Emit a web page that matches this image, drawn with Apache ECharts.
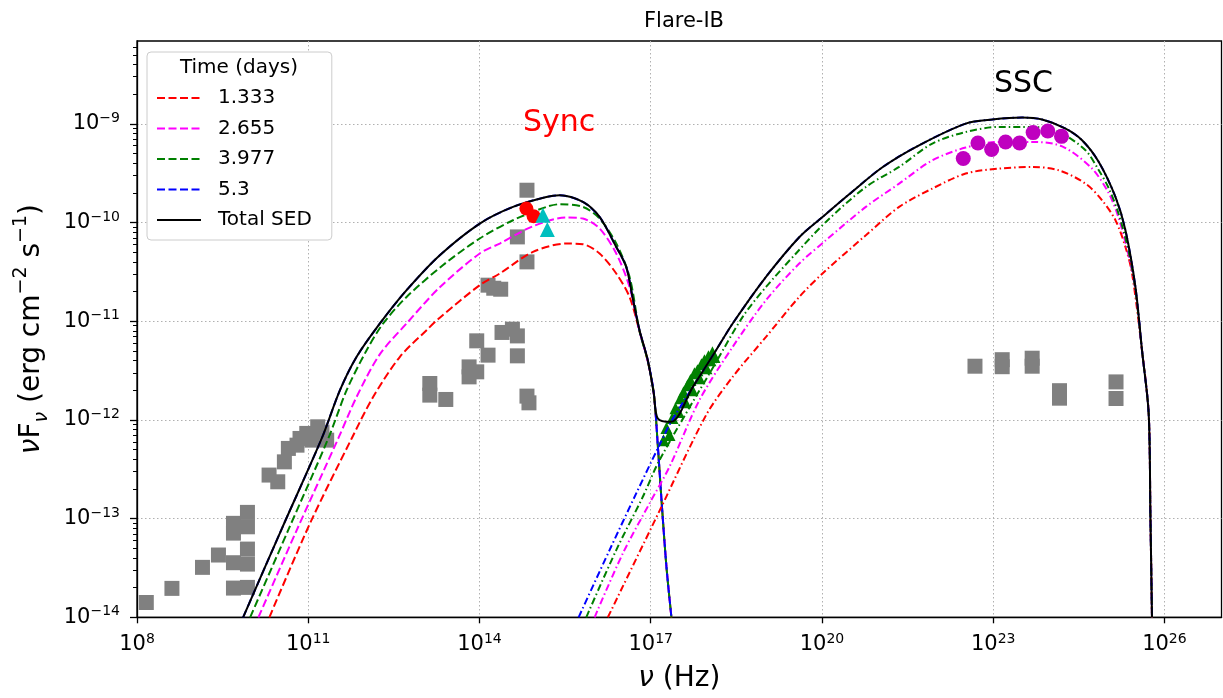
<!DOCTYPE html>
<html>
<head>
<meta charset="utf-8">
<title>Flare-IB</title>
<script src="https://cdn.jsdelivr.net/npm/echarts@6.0.0/dist/echarts.min.js"></script>
<style>
  html, body { margin: 0; padding: 0; background: #fff; }
  #chart { width: 1223px; height: 698px; }
</style>
</head>
<body>
<div id="chart"></div>
<script>
// every point below is [log10(nu / Hz), log10(nuFnu / erg cm^-2 s^-1)]

var timeLabels = ['1.333', '2.655', '3.977', '5.3']
var totalLabel = 'Total SED'

var xTickValues = [1e8, 1e11, 1e14, 1e17, 1e20, 1e23, 1e26]
var yTickValues = [1e-14, 1e-13, 1e-12, 1e-11, 1e-10, 1e-9]
var yMinorMantissas = [2, 3, 4, 5, 6, 7, 8, 9]

// synchrotron components (dashed)
var sync1333 = [[10.319, -14.0], [11.031, -13.048], [11.761, -12.188], [12.139, -11.766], [12.606, -11.361],
  [13.073, -11.091], [13.305, -10.964], [14.005, -10.635], [14.355, -10.517], [14.937, -10.298], [15.522, -10.213],
  [15.812, -10.220], [16.104, -10.314], [16.396, -10.517], [16.629, -10.754], [16.804, -11.101], [16.949, -11.405],
  [17.054, -11.732], [17.124, -12.256], [17.189, -12.812], [17.276, -13.491], [17.363, -14.0]]
var sync2655 = [[10.127, -14.0], [10.799, -13.116], [11.526, -12.188], [11.848, -11.766], [12.256, -11.334],
  [12.723, -11.023], [13.305, -10.656], [14.005, -10.314], [14.355, -10.213], [14.937, -10.038], [15.522, -9.950],
  [15.812, -9.960], [16.104, -10.061], [16.396, -10.314], [16.629, -10.653], [16.804, -11.101], [16.949, -11.405],
  [17.054, -11.732], [17.124, -12.256], [17.189, -12.812], [17.276, -13.491], [17.363, -14.0]]
var sync3977 = [[9.982, -14.0], [10.647, -13.120], [11.351, -12.188], [11.673, -11.699], [12.023, -11.294],
  [12.313, -11.023], [12.723, -10.754], [13.358, -10.433], [14.005, -10.162], [14.587, -9.977], [15.172, -9.842],
  [15.404, -9.815], [15.812, -9.842], [16.104, -9.960], [16.396, -10.213], [16.629, -10.551], [16.804, -11.101],
  [16.949, -11.405], [17.054, -11.732], [17.124, -12.256], [17.189, -12.812], [17.276, -13.491], [17.363, -14.0]]
var sync53 = [[9.859, -14.0], [10.542, -13.096], [11.236, -12.188], [11.556, -11.699], [11.848, -11.361],
  [12.256, -11.023], [12.723, -10.686], [13.305, -10.332], [14.005, -10.011], [14.587, -9.842], [15.172, -9.741],
  [15.404, -9.724], [15.812, -9.792], [16.104, -9.944], [16.396, -10.248], [16.571, -10.450], [16.686, -10.770],
  [16.804, -11.091], [16.949, -11.395], [17.054, -11.732], [17.124, -12.256], [17.189, -12.812], [17.276, -13.491],
  [17.363, -14.0]]

// SSC components (dash-dot)
var ssc1333 = [[16.249, -14.0], [17.154, -12.922], [17.970, -11.952], [18.436, -11.564], [19.020, -11.159],
  [19.602, -10.754], [20.010, -10.517], [20.769, -10.129], [21.352, -9.842], [21.934, -9.656], [22.518, -9.504],
  [23.101, -9.454], [23.683, -9.437], [24.150, -9.471], [24.617, -9.606], [24.908, -9.775], [25.142, -9.977],
  [25.317, -10.248], [25.433, -10.517], [25.607, -11.294], [25.724, -11.935], [25.754, -12.947], [25.782, -14.0]]
var ssc2655 = [[16.017, -14.0], [16.512, -13.352], [16.979, -12.846], [17.329, -12.475], [17.853, -11.800],
  [18.436, -11.260], [19.020, -10.787], [19.602, -10.416], [20.069, -10.180], [20.769, -9.842], [21.352, -9.606],
  [21.934, -9.370], [22.518, -9.241], [23.101, -9.184], [23.683, -9.184], [24.208, -9.228], [24.727, -9.451],
  [25.025, -9.704], [25.200, -9.957], [25.375, -10.342], [25.492, -10.686], [25.607, -11.294], [25.724, -11.935],
  [25.754, -12.947], [25.782, -14.0]]
var ssc3977 = [[15.871, -14.0], [16.396, -13.319], [16.862, -12.779], [17.154, -12.407], [18.145, -11.415],
  [18.611, -10.956], [19.020, -10.653], [19.545, -10.314], [20.069, -9.994], [20.769, -9.640], [21.352, -9.437],
  [21.934, -9.200], [22.518, -9.083], [23.101, -9.032], [23.683, -9.032], [24.150, -9.083], [24.617, -9.268],
  [24.850, -9.471], [25.025, -9.653], [25.200, -9.916], [25.375, -10.301], [25.492, -10.686], [25.607, -11.294],
  [25.724, -11.935], [25.754, -12.947], [25.782, -14.0]]
var ssc53 = [[15.737, -14.0], [16.279, -13.319], [16.746, -12.745], [17.124, -12.289], [17.358, -12.020],
  [17.736, -11.668], [18.145, -11.294], [18.436, -11.023], [19.020, -10.551], [19.602, -10.149], [20.010, -9.944],
  [20.477, -9.714], [21.060, -9.440], [21.701, -9.218], [22.518, -8.998], [22.984, -8.957], [23.508, -8.937],
  [23.858, -8.957], [24.268, -9.049], [24.558, -9.167], [24.850, -9.387], [25.142, -9.741], [25.317, -10.078],
  [25.492, -10.653], [25.607, -11.294], [25.724, -11.935], [25.754, -12.947], [25.782, -13.997]]

// total SED (solid black)
var totalSed = [[9.859, -14.0], [10.542, -13.096], [11.236, -12.188], [11.556, -11.699], [11.848, -11.361],
  [12.256, -11.023], [12.723, -10.686], [13.305, -10.332], [14.005, -10.011], [14.587, -9.842], [15.172, -9.741],
  [15.404, -9.724], [15.812, -9.792], [16.104, -9.944], [16.396, -10.248], [16.571, -10.450], [16.686, -10.770],
  [16.804, -11.091], [16.949, -11.395], [17.054, -11.732], [17.124, -11.985], [17.358, -12.020], [17.736, -11.668],
  [18.145, -11.294], [18.436, -11.023], [19.020, -10.551], [19.602, -10.149], [20.010, -9.944], [20.477, -9.714],
  [21.060, -9.440], [21.701, -9.218], [22.518, -8.998], [22.984, -8.957], [23.508, -8.937], [23.858, -8.957],
  [24.268, -9.049], [24.558, -9.167], [24.850, -9.387], [25.142, -9.741], [25.317, -10.078], [25.492, -10.653],
  [25.607, -11.294], [25.724, -11.935], [25.754, -12.947], [25.782, -13.997]]

// observations
var archival = [[8.163, -13.85], [8.612, -13.707], [9.147, -13.494], [9.427, -13.369], [9.690, -13.704],
  [9.935, -13.697], [9.690, -13.447], [9.935, -13.461], [9.935, -13.309], [9.690, -13.147], [9.935, -13.083],
  [9.690, -13.048], [9.935, -12.937], [10.314, -12.559], [10.466, -12.627], [10.582, -12.425], [10.652, -12.289],
  [10.803, -12.256], [10.856, -12.188], [10.974, -12.137], [11.066, -12.205], [11.166, -12.070], [11.241, -12.124],
  [11.323, -12.205], [13.130, -11.631], [13.130, -11.749], [13.410, -11.793], [13.818, -11.463], [13.818, -11.564],
  [13.952, -11.513], [13.952, -11.199], [14.150, -11.344], [14.395, -11.114], [14.577, -11.081], [14.664, -11.149],
  [14.664, -11.351], [14.832, -11.759], [14.867, -11.827], [14.150, -10.635], [14.250, -10.666], [14.372, -10.676],
  [14.664, -10.146], [14.832, -10.399], [14.832, -9.673], [22.681, -11.456], [23.158, -11.390], [23.158, -11.461],
  [23.683, -11.375], [23.683, -11.456], [24.162, -11.704], [24.162, -11.780], [25.152, -11.615], [25.152, -11.783]]
var opticalFlare = [[14.822, -9.859], [14.949, -9.937]]
var uvFlare = [[15.112, -9.927], [15.189, -10.071]]
var xrayFlare = [[17.224, -12.205], [17.276, -12.083], [17.329, -12.154], [17.381, -11.982], [17.434, -11.881],
  [17.486, -11.921], [17.521, -11.780], [17.574, -11.719], [17.609, -11.820], [17.644, -11.648], [17.696, -11.597],
  [17.731, -11.699], [17.766, -11.527], [17.819, -11.496], [17.854, -11.577], [17.889, -11.435], [17.941, -11.395],
  [17.976, -11.476], [18.011, -11.354], [18.046, -11.395], [18.081, -11.314], [18.116, -11.364]]
var gammaFlare = [[22.476, -9.352], [22.733, -9.194], [22.973, -9.261], [23.217, -9.184], [23.462, -9.194],
  [23.700, -9.089], [23.957, -9.073], [24.197, -9.127]]

var FONT = 'DejaVu Sans'
var timeColors = ['#ff0000', '#ff00ff', '#008000', '#0000ff']
var dashed = [8, 3.5]
var dashDot = [7, 3, 1.5, 3]

function toXY (pts) {
  return pts.map(function (p) { return [Math.pow(10, p[0]), Math.pow(10, p[1])] })
}

function powLabel (v) {
  var e = Math.round(Math.log10(v))
  return '10{sup|' + (e < 0 ? '\u2212' + (-e) : e) + '}'
}

function curve (name, pts, color, dash, z) {
  return {
    name: name,
    type: 'line',
    data: toXY(pts),
    symbol: 'none',
    showSymbol: false,
    smooth: 0.3,
    lineStyle: { color: color, width: 2, type: dash },
    itemStyle: { color: color },
    z: z
  }
}

function points (name, pts, symbol, size, color, z) {
  return {
    name: name,
    type: 'scatter',
    data: toXY(pts),
    symbol: symbol,
    symbolSize: size,
    itemStyle: { color: color, opacity: 1 },
    z: z
  }
}

var yMinorTicks = []
for (var k = 0; k < yTickValues.length; k++) {
  yMinorMantissas.forEach(function (m) { yMinorTicks.push(m * yTickValues[k]) })
}

var supStyle = { fontFamily: FONT, fontSize: 14, lineHeight: 15, verticalAlign: 'top', color: '#000' }

var chart = echarts.init(document.getElementById('chart'))

var series = [
  curve(timeLabels[0], sync1333, timeColors[0], dashed, 3),
  curve(timeLabels[1], sync2655, timeColors[1], dashed, 3),
  curve(timeLabels[2], sync3977, timeColors[2], dashed, 3),
  curve(timeLabels[3], sync53, timeColors[3], dashed, 3),
  curve(totalLabel, totalSed, '#000000', 'solid', 4),
  curve(timeLabels[0], ssc1333, timeColors[0], dashDot, 3),
  curve(timeLabels[1], ssc2655, timeColors[1], dashDot, 3),
  curve(timeLabels[2], ssc3977, timeColors[2], dashDot, 3),
  curve(timeLabels[3], ssc53, timeColors[3], dashDot, 3),
  points('archival', archival, 'rect', 15, '#808080', 1),
  points('X-ray', xrayFlare, 'triangle', 12, '#008000', 2),
  points('optical', opticalFlare, 'circle', 14, '#ff0000', 5),
  points('UV', uvFlare, 'triangle', 15, '#00bfbf', 5),
  points('gamma', gammaFlare, 'circle', 15, '#bf00bf', 5)
]

chart.setOption({
  animation: false,
  backgroundColor: '#ffffff',
  textStyle: { fontFamily: FONT },
  title: {
    text: 'Flare-IB',
    left: 679,
    top: 6,
    textAlign: 'center',
    textStyle: { fontFamily: FONT, fontSize: 21, fontWeight: 'normal', color: '#000' }
  },
  grid: {
    left: 137,
    right: 1.5,
    top: 41,
    bottom: 80.7,
    show: true,
    borderColor: '#000',
    borderWidth: 1.3,
    backgroundColor: 'transparent',
    outerBoundsMode: 'none'
  },
  legend: {
    data: timeLabels.concat([totalLabel]),
    orient: 'vertical',
    left: 147,
    top: 52,
    itemWidth: 44,
    itemHeight: 14,
    itemGap: 10.5,
    padding: [36, 20, 10, 9],
    backgroundColor: '#ffffff',
    borderColor: '#cccccc',
    borderWidth: 1,
    borderRadius: 4,
    selectedMode: false,
    itemStyle: { opacity: 0, borderWidth: 0 },
    textStyle: { fontFamily: FONT, fontSize: 20, lineHeight: 20, color: '#000', padding: [0, 0, 0, 12] }
  },
  graphic: [
    { type: 'text', x: 239, y: 68, z: 100,
      style: { text: 'Time (days)', font: '20px "DejaVu Sans"', fill: '#000', align: 'center', verticalAlign: 'middle' } },
    { type: 'text', x: 523, y: 123, z: 100,
      style: { text: 'Sync', font: '30px "DejaVu Sans"', fill: '#ff0000', align: 'left', verticalAlign: 'middle' } },
    { type: 'text', x: 994, y: 84, z: 100,
      style: { text: 'SSC', font: '30px "DejaVu Sans"', fill: '#000000', align: 'left', verticalAlign: 'middle' } }
  ],
  xAxis: {
    type: 'log',
    logBase: 10,
    min: 1e8,
    max: 1e27,
    name: '{it|ν} (Hz)',
    nameLocation: 'middle',
    nameGap: 42,
    nameTextStyle: {
      fontFamily: FONT, fontSize: 28, lineHeight: 34, color: '#000',
      rich: { it: { fontFamily: FONT, fontSize: 28, fontStyle: 'italic', color: '#000' } }
    },
    axisLine: { show: true, lineStyle: { color: '#000', width: 1.3 } },
    axisTick: { show: true, inside: false, length: 6, customValues: xTickValues, lineStyle: { color: '#000', width: 1.3 } },
    minorTick: { show: false },
    axisLabel: {
      customValues: xTickValues,
      formatter: powLabel,
      margin: 15,
      fontFamily: FONT,
      fontSize: 21,
      lineHeight: 25,
      color: '#000',
      rich: { sup: supStyle }
    },
    splitLine: { show: true, lineStyle: { color: '#b0b0b0', width: 1, type: [1.5, 2.5] } }
  },
  yAxis: [
    {
      type: 'log',
      logBase: 10,
      min: 1e-14,
      max: 6.9e-9,
      name: '{it|ν}F{sub|ν} (erg cm{sup|\u22122} s{sup|\u22121})',
      nameLocation: 'middle',
      nameGap: 85,
      nameTextStyle: {
        fontFamily: FONT, fontSize: 28, lineHeight: 40, color: '#000',
        rich: {
          it: { fontFamily: FONT, fontSize: 28, fontStyle: 'italic', color: '#000' },
          sub: { fontFamily: FONT, fontSize: 19, lineHeight: 26, verticalAlign: 'bottom', fontStyle: 'italic', color: '#000' },
          sup: { fontFamily: FONT, fontSize: 19, lineHeight: 22, verticalAlign: 'top', color: '#000' }
        }
      },
      axisLine: { show: true, lineStyle: { color: '#000', width: 1.3 } },
      axisTick: { show: true, inside: false, length: 7, customValues: yTickValues, lineStyle: { color: '#000', width: 1.3 } },
      minorTick: { show: false },
      axisLabel: {
        customValues: yTickValues,
        formatter: powLabel,
        margin: 17,
        fontFamily: FONT,
        fontSize: 21,
        lineHeight: 25,
        color: '#000',
        rich: { sup: supStyle }
      },
      splitLine: { show: true, lineStyle: { color: '#b0b0b0', width: 1, type: [1.5, 2.5] } }
    },
    {
      // second copy of the y axis, only for the log minor ticks
      type: 'log',
      logBase: 10,
      min: 1e-14,
      max: 6.9e-9,
      position: 'left',
      axisLine: { show: false },
      axisTick: { show: true, inside: false, length: 4, customValues: yMinorTicks, lineStyle: { color: '#000', width: 1 } },
      axisLabel: { show: false },
      splitLine: { show: false }
    }
  ],
  series: series
})
</script>
</body>
</html>
